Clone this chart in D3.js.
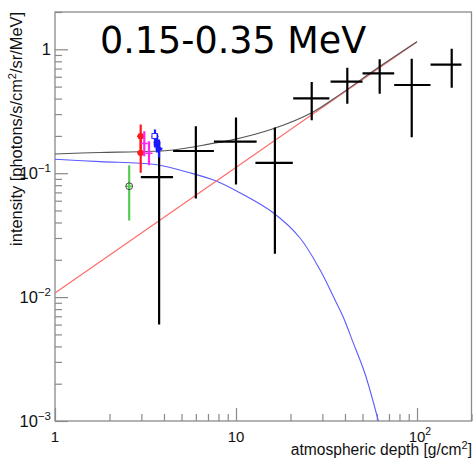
<!DOCTYPE html>
<html>
<head>
<meta charset="utf-8">
<script src="https://cdn.jsdelivr.net/npm/d3@7"></script>
<style>
  html, body { margin: 0; padding: 0; background: #fff; }
  svg { display: block; }
</style>
</head>
<body>
<svg id="chart" width="473" height="458"></svg>
<script>
// Energy band shown in the panel
const bandLabel = "0.15-0.35 MeV";

// Black points: depth (g/cm2) with bin edges, intensity with error range
const depthX    = [3.76, 6.0, 10.0, 16.4, 26.2, 41.2, 62.2, 93.5, 155.5];
const depthLo   = [2.98, 4.49, 7.55, 12.8, 20.7, 33.3, 50.0, 74.8, 118.8];
const depthHi   = [4.49, 7.55, 13.0, 20.6, 32.8, 50.0, 74.8, 118.7, 176.0];
const intensity = [0.093, 0.151, 0.180, 0.121, 0.402, 0.548, 0.640, 0.515, 0.752];
const intLo     = [0.0060, 0.0624, 0.081, 0.0224, 0.267, 0.364, 0.438, 0.195, 0.490];
const intHi     = [0.177, 0.239, 0.282, 0.234, 0.544, 0.711, 0.830, 0.840, 1.010];

// Other measurements near the top of the atmosphere
const redX  = [2.975, 2.975], redY  = [0.199, 0.146], redLo  = [0.1554, 0.1007], redHi  = [0.2476, 0.187];
const magX  = [3.114, 3.306], magY  = [0.1738, 0.145], magLo  = [0.1372, 0.116], magHi  = [0.2185, 0.1814];
const bluX  = [3.568, 3.66, 3.755], bluY = [0.198, 0.177, 0.1584], bluLo = [0.1614, 0.147, 0.1339], bluHi = [0.2256, 0.2094, 0.187];
const grnX  = [2.57], grnY = [0.0785], grnLo = [0.0415], grnHi = [0.116];

// Model curves sampled along depth
const cosmicX = [1, 1.773, 3.57, 5.57, 7.83, 10.52, 16.05, 22.57, 29.1, 34.5, 39.0, 44.5, 51.5, 61.3];
const cosmicY = [0.1297, 0.124, 0.1175, 0.1007, 0.0861, 0.0694, 0.0479, 0.0300, 0.0166, 0.0101, 0.00697, 0.00425, 0.00243, 0.000988];
const atmosX  = [1, 100];
const atmosY  = [0.0108, 1.15];
const totalX  = [1, 1.773, 2.886, 4.49, 7.45, 9.27, 16.05, 26.2, 37.6, 60, 100];
const totalY  = [0.143, 0.147, 0.149, 0.154, 0.174, 0.184, 0.2286, 0.308, 0.433, 0.70, 1.15];

// Axis ticks
const xMajor = [1, 10, 100];
const xLabels = [["1", null], ["10", null], ["10", "2"]];
const yMajor = [1, 0.1, 0.01, 0.001];
const yLabels = [["1", null], ["10", "\u22121"], ["10", "\u22122"], ["10", "\u22123"]];

const svg = d3.select("#chart");
const padL = 55, padR = 471.5, padT = 12, padB = 421;

const x = d3.scaleLog().domain([1, 200]).range([padL, padR]);
const y = d3.scaleLog().domain([1e-3, 2]).range([padB, padT]);

const zip = (xs, ys) => xs.map((v, i) => [v, ys[i]]);

// Minor ticks for each decade
const xMinor = [];
for (const d of [1, 10, 100]) for (let k = 2; k <= 9; k++) if (d * k <= 200) xMinor.push(d * k);
const yMinor = [];
for (const d of [0.001, 0.01, 0.1, 1]) for (let k = 2; k <= 9; k++) if (d * k <= 2) yMinor.push(d * k);

svg.append("defs").append("clipPath").attr("id", "clip")
  .append("rect").attr("x", padL).attr("y", padT).attr("width", padR - padL).attr("height", padB - padT);

const frameColor = "#8a8a8a";

// Tick marks drawn inward
const gx = svg.append("g").attr("transform", `translate(0,${padB})`);
gx.call(d3.axisBottom(x).tickValues(xMinor).tickSize(-7).tickFormat(""));
gx.call(g => g.select(".domain").remove());
const gx2 = svg.append("g").attr("transform", `translate(0,${padB})`);
gx2.call(d3.axisBottom(x).tickValues(xMajor).tickSize(-13).tickFormat(""));
gx2.call(g => g.select(".domain").remove());

const gy = svg.append("g").attr("transform", `translate(${padL},0)`);
gy.call(d3.axisLeft(y).tickValues(yMinor).tickSize(-7).tickFormat(""));
gy.call(g => g.select(".domain").remove());
const gy2 = svg.append("g").attr("transform", `translate(${padL},0)`);
gy2.call(d3.axisLeft(y).tickValues(yMajor).tickSize(-13).tickFormat(""));
gy2.call(g => g.select(".domain").remove());

svg.selectAll(".tick line").attr("stroke", frameColor).attr("stroke-width", 1.2);

// Frame
svg.append("rect")
  .attr("x", padL).attr("y", padT).attr("width", padR - padL).attr("height", padB - padT)
  .attr("fill", "none").attr("stroke", frameColor).attr("stroke-width", 1.3);

// Tick labels: mantissa centred on the tick, exponent hung to its right
const labelFont = "Liberation Sans, Arial, Helvetica, sans-serif";
xMajor.forEach((v, i) => {
  const t = svg.append("text")
    .attr("x", x(v)).attr("y", 442)
    .attr("text-anchor", "middle")
    .attr("font-family", labelFont).attr("font-size", 15).attr("fill", "#111")
    .text(xLabels[i][0]);
  if (xLabels[i][1]) {
    const w = t.node().getComputedTextLength();
    svg.append("text")
      .attr("x", x(v) + w / 2).attr("y", 435)
      .attr("font-family", labelFont).attr("font-size", 10.5).attr("fill", "#111")
      .text(xLabels[i][1]);
  }
});
yMajor.forEach((v, i) => {
  const t = svg.append("text")
    .attr("x", 51).attr("y", y(v) + 6)
    .attr("text-anchor", "end")
    .attr("font-family", labelFont).attr("font-size", 16.5).attr("fill", "#111");
  t.append("tspan").text(yLabels[i][0]);
  if (yLabels[i][1]) t.append("tspan").attr("dy", -7.5).attr("font-size", 11.5).text(yLabels[i][1]);
});

// Axis titles
const xt = svg.append("text")
  .attr("x", 472).attr("y", 454.5).attr("text-anchor", "end")
  .attr("font-family", labelFont).attr("font-size", 15.6).attr("fill", "#111");
xt.append("tspan").text("atmospheric depth [g/cm");
xt.append("tspan").attr("dy", -6).attr("font-size", 11).text("2");
xt.append("tspan").attr("dy", 6).text("]");

const yt = svg.append("text")
  .attr("transform", "translate(22,12) rotate(-90)")
  .attr("text-anchor", "end")
  .attr("font-family", labelFont).attr("font-size", 16.4).attr("fill", "#111");
yt.append("tspan").text("intensity [photons/s/cm");
yt.append("tspan").attr("dy", -6).attr("font-size", 11).text("2");
yt.append("tspan").attr("dy", 6).text("/sr/MeV]");

// Model curves
const line = d3.line().x(d => x(d[0])).y(d => y(d[1])).curve(d3.curveCatmullRom.alpha(0.5));
const curves = svg.append("g").attr("clip-path", "url(#clip)");
curves.append("path").datum(zip(cosmicX, cosmicY)).attr("d", line)
  .attr("fill", "none").attr("stroke", "#5a5aff").attr("stroke-width", 1.1);
curves.append("path").datum(zip(atmosX, atmosY)).attr("d", d3.line().x(d => x(d[0])).y(d => y(d[1])))
  .attr("fill", "none").attr("stroke", "#ff6b6b").attr("stroke-width", 1.1);
curves.append("path").datum(zip(totalX, totalY)).attr("d", line)
  .attr("fill", "none").attr("stroke", "#555").attr("stroke-width", 1.1);

// Error-bar crosses
const marks = svg.append("g").attr("clip-path", "url(#clip)");
function crosses(xs, ys, lo, hi, xlo, xhi, color, w) {
  xs.forEach((v, i) => {
    marks.append("line").attr("x1", x(v)).attr("x2", x(v)).attr("y1", y(lo[i])).attr("y2", y(hi[i]))
      .attr("stroke", color).attr("stroke-width", w);
    if (xlo) marks.append("line").attr("x1", x(xlo[i])).attr("x2", x(xhi[i])).attr("y1", y(ys[i])).attr("y2", y(ys[i]))
      .attr("stroke", color).attr("stroke-width", w);
  });
}
crosses(depthX, intensity, intLo, intHi, depthLo, depthHi, "#000", 2.2);

// Colored points with short horizontal bars
function points(xs, ys, lo, hi, color, shape) {
  crosses(xs, ys, lo, hi, null, null, color, 2.2);
  xs.forEach((v, i) => {
    const cx = x(v), cy = y(ys[i]);
    marks.append("line").attr("x1", cx - 3.5).attr("x2", cx + 3.5).attr("y1", cy).attr("y2", cy)
      .attr("stroke", color).attr("stroke-width", 1.5);
    if (shape === "dot") {
      marks.append("circle").attr("cx", cx).attr("cy", cy).attr("r", 3.2).attr("fill", color);
    } else if (shape === "tri") {
      marks.append("path").attr("d", d3.symbol(d3.symbolTriangle, 22)())
        .attr("transform", `translate(${cx},${cy})`).attr("fill", color);
    }
  });
}
points(grnX, grnY, grnLo, grnHi, "#55cc55", "none");
marks.append("circle").attr("cx", x(grnX[0])).attr("cy", y(grnY[0])).attr("r", 3.4)
  .attr("fill", "none").attr("stroke", "#333").attr("stroke-width", 0.9);
points(redX, redY, redLo, redHi, "#ff1a1a", "dot");
points(magX, magY, magLo, magHi, "#ff22ee", "none");
points(bluX, bluY, bluLo, bluHi, "#1a1aff", "tri");
marks.append("rect").attr("x", x(bluX[0]) - 3).attr("y", y(bluY[0]) - 3).attr("width", 5).attr("height", 5)
  .attr("fill", "#fff").attr("stroke", "#1a1aff").attr("stroke-width", 0.9);

// Band label
svg.append("text")
  .attr("x", 100).attr("y", 53)
  .attr("font-family", "DejaVu Sans, Verdana, sans-serif").attr("font-size", 36.5).attr("fill", "#000")
  .text(bandLabel);
</script>
</body>
</html>
